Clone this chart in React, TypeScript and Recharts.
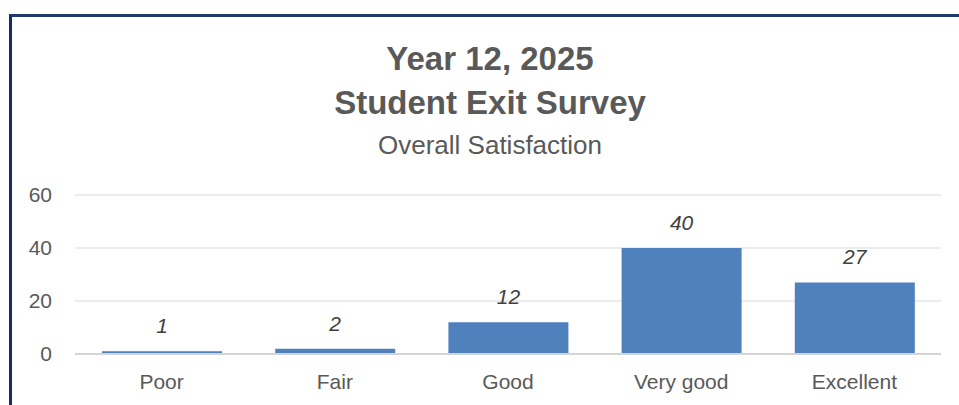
import React from 'react';
import { BarChart, Bar, XAxis, YAxis, CartesianGrid, LabelList } from 'recharts';

const categories = ['Poor', 'Fair', 'Good', 'Very good', 'Excellent'];
const responses = [1, 2, 12, 40, 27];
const yTicks = [0, 20, 40, 60];

const titleLines = ['Year 12, 2025', 'Student Exit Survey'];
const subtitle = 'Overall Satisfaction';

const data = categories.map((name, i) => ({ name, count: responses[i] }));

const FONT = '"Liberation Sans", Arial, sans-serif';
const GREY = '#595959';

const App: React.FC = () => {
  return (
    <div
      style={{
        position: 'absolute',
        left: 0,
        top: 0,
        width: 959,
        height: 405,
        overflow: 'hidden',
        background: '#fff',
        fontFamily: FONT,
      }}
    >
      {/* chart frame, only top and left edges visible */}
      <div
        style={{
          position: 'absolute',
          left: 9,
          top: 14,
          width: 1100,
          height: 600,
          borderTop: '3px solid #1f3a70',
          borderLeft: '3px solid #142c66',
          boxSizing: 'border-box',
        }}
      />
      <BarChart
        width={959}
        height={405}
        data={data}
        margin={{ top: 195, right: 18, left: 0, bottom: 0 }}
        style={{ position: 'absolute', left: 0, top: 0 }}
      >
        <CartesianGrid vertical={false} stroke="#d9d9d9" />
        <XAxis
          dataKey="name"
          height={51}
          tickLine={false}
          tickSize={0}
          tickMargin={20}
          axisLine={{ stroke: '#d4d4d4', strokeWidth: 2 }}
          tick={{ fill: GREY, fontSize: 21, fontFamily: FONT }}
        />
        <YAxis
          width={75}
          domain={[0, 60]}
          ticks={yTicks}
          axisLine={false}
          tickLine={false}
          tickSize={0}
          tickMargin={23}
          tick={{ fill: GREY, fontSize: 21, fontFamily: FONT }}
        />
        <Bar dataKey="count" fill="#4f81bd" barSize={120} isAnimationActive={false}>
          <LabelList
            dataKey="count"
            position="top"
            offset={18}
            fill="#404040"
            fontSize={21}
            fontStyle="italic"
            fontFamily={FONT}
          />
        </Bar>
      </BarChart>
      <svg
        width={959}
        height={405}
        style={{ position: 'absolute', left: 0, top: 0, pointerEvents: 'none' }}
      >
        <text x={490} y={70} textAnchor="middle" fill={GREY} fontSize={33} fontWeight="bold" fontFamily={FONT}>
          {titleLines[0]}
        </text>
        <text x={490} y={114} textAnchor="middle" fill={GREY} fontSize={33} fontWeight="bold" fontFamily={FONT}>
          {titleLines[1]}
        </text>
        <text x={490} y={154} textAnchor="middle" fill={GREY} fontSize={26} fontFamily={FONT}>
          {subtitle}
        </text>
      </svg>
    </div>
  );
};

export default App;
